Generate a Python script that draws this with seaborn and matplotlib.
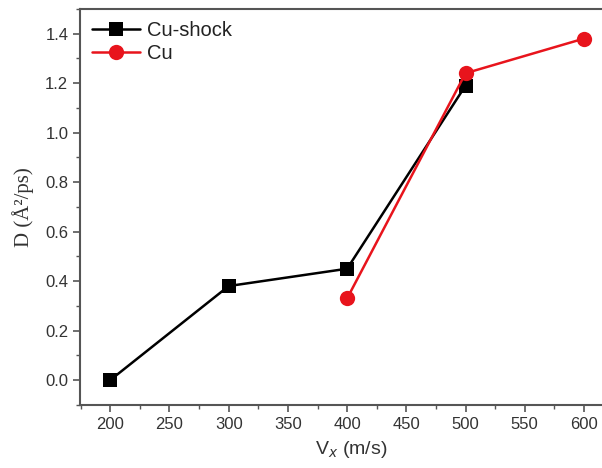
import matplotlib
matplotlib.use("Agg")
import matplotlib.pyplot as plt
import seaborn as sns
import pandas as pd
from matplotlib.ticker import MultipleLocator, FormatStrFormatter

# data
shock_v = [200, 300, 400, 500]
shock_d = [0.0, 0.38, 0.45, 1.19]
cu_v = [400, 500, 600]
cu_d = [0.33, 1.24, 1.38]

df = pd.concat([
    pd.DataFrame({'v': shock_v, 'D': shock_d, 'label': 'Cu-shock'}),
    pd.DataFrame({'v': cu_v, 'D': cu_d, 'label': 'Cu'}),
])

sns.set_theme(style="ticks")
plt.rcParams['font.family'] = ['Liberation Sans', 'DejaVu Sans']

fig = plt.figure(figsize=(6.02, 4.68), dpi=100)
ax = fig.add_axes([0.133, 0.135, 0.90, 0.846])

sns.lineplot(data=df, x='v', y='D', hue='label', style='label',
             palette={'Cu-shock': 'black', 'Cu': '#e8141c'},
             markers={'Cu-shock': 's', 'Cu': 'o'},
             dashes=False, markersize=10, linewidth=1.8,
             markeredgewidth=0, ax=ax, sort=False)

# circles a bit larger than squares in the reference
for ln in ax.lines:
    if ln.get_marker() == 'o':
        ln.set_markersize(11)

ax.set_xlim(174.5, 632)
ax.set_ylim(-0.1, 1.5)
ax.xaxis.set_major_locator(MultipleLocator(50))
ax.xaxis.set_minor_locator(MultipleLocator(25))
ax.yaxis.set_major_locator(MultipleLocator(0.2))
ax.yaxis.set_minor_locator(MultipleLocator(0.1))
ax.yaxis.set_major_formatter(FormatStrFormatter('%.1f'))

for s in ax.spines.values():
    s.set_color('#555555')
    s.set_linewidth(1.5)
ax.tick_params(which='major', length=5, width=1.2, color='#555555',
               labelsize=12, labelcolor='#333333')
ax.tick_params(which='minor', length=3, width=1.0, color='#555555')

ax.set_xlabel(r'V$_x$ (m/s)', fontsize=14, color='#333333', labelpad=5)
ax.set_ylabel('D (Å²/ps)', fontsize=15, color='#333333',
              family=['Liberation Serif'], labelpad=8)

leg = ax.legend(loc='upper left', frameon=False, fontsize=14.5,
                handlelength=2.4, handletextpad=0.3, labelspacing=0.2,
                borderaxespad=0.2, bbox_to_anchor=(0.0, 1.0))
for t in leg.get_texts():
    t.set_color('#222222')

fig.savefig('out.png', dpi=100)
